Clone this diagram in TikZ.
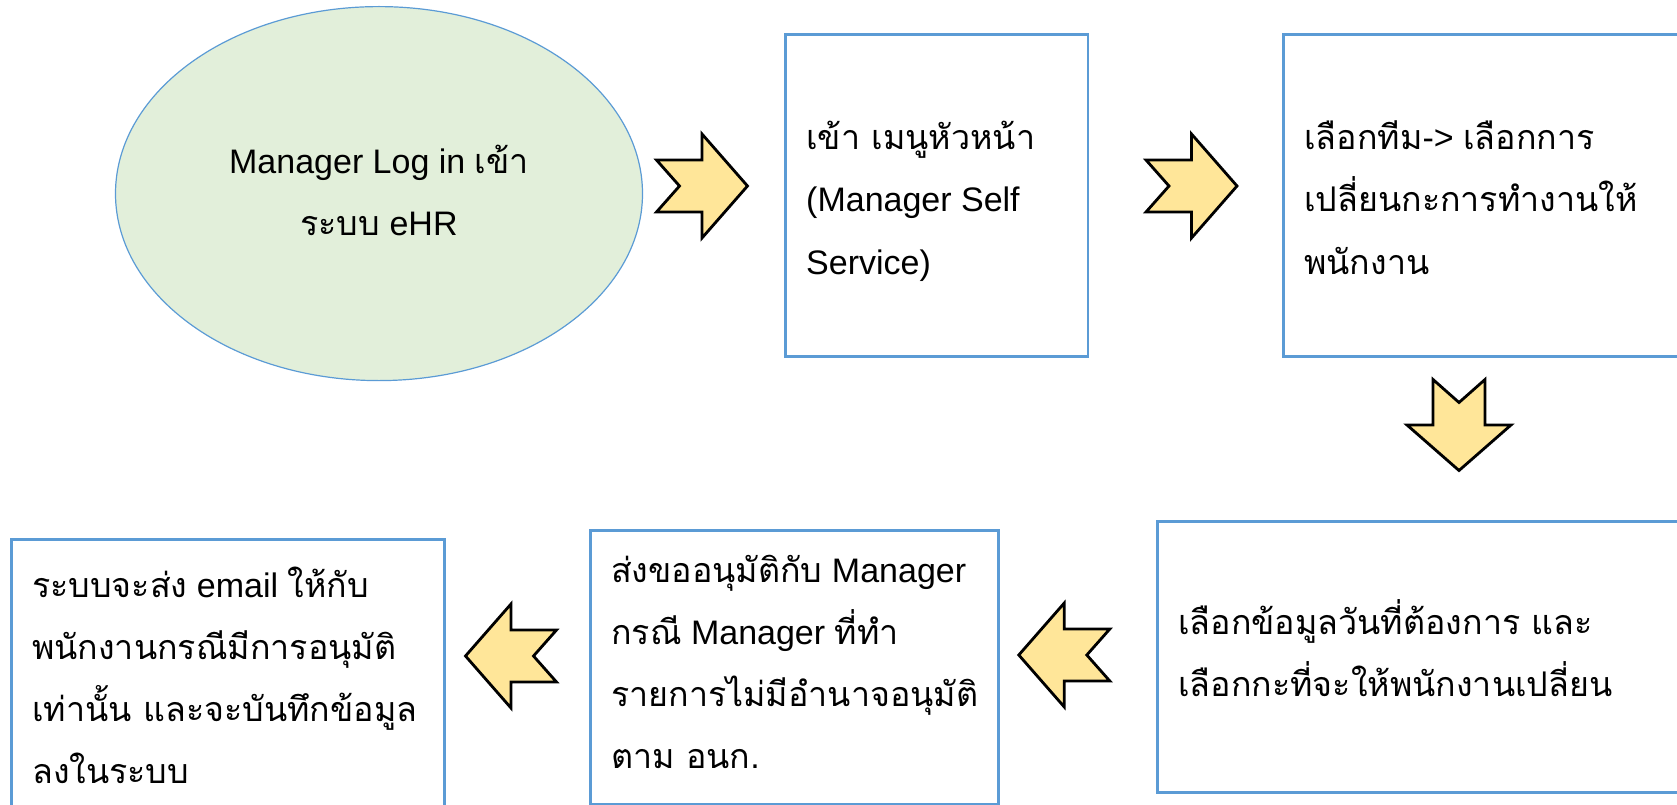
\documentclass[tikz,border=0pt]{standalone}
\usepackage{fontspec}
\setmainfont{Liberation Sans}
\newfontfamily\thaifont[Script=Thai,Scale=1.0]{Loma}
\usetikzlibrary{shapes.geometric}
\definecolor{boxblue}{HTML}{5B9BD5}
\definecolor{ellfill}{HTML}{E2EFDA}
\definecolor{arrfill}{HTML}{FFE699}
\newcommand\thx[1]{{\thaifont #1}}
\newcommand\tblock[2][l]{\begin{minipage}[t]{520pt}\ifx l#1\raggedright\else\centering\fi\setlength{\baselineskip}{62pt}\setlength{\lineskiplimit}{-300pt}#2\end{minipage}}
\tikzset{
  boxnode/.style={draw=boxblue, line width=2.6pt, rectangle, anchor=north west, inner sep=0pt},
  txt/.style={anchor=base west, inner sep=0pt, font=\fontsize{34}{62}\selectfont},
  arrowshape/.style={draw=black, fill=arrfill, line width=2.8pt, line join=miter},
  blockarrow/.pic={\draw[arrowshape] (-45.5,-26) -- (0,-26) -- (0,-52) -- (45.5,0) -- (0,52) -- (0,26) -- (-45.5,26) -- (-22.5,0) -- cycle;}
}
\begin{document}
\begin{tikzpicture}[x=1pt,y=-1pt]
\useasboundingbox (0,0) rectangle (1677,805);
\clip (0,0) rectangle (1677,805);
% ellipse
\node[ellipse, draw=boxblue, line width=1.2pt, fill=ellfill, minimum width=527pt, minimum height=374pt, inner sep=0pt] (start) at (379,193.6) {};
\node[txt, anchor=base] (starttxt) at (379,174) {\tblock[c]{Manager Log in \thx{เข้า}\\\thx{ระบบ} eHR}};
% boxes
\node[boxnode, minimum width=302.6pt, minimum height=322pt] (b1) at (784,33) {};
\node[boxnode, minimum width=408pt, minimum height=322pt] (b2) at (1282,33) {};
\node[boxnode, minimum width=534pt, minimum height=271pt] (b3) at (1156,520) {};
\node[boxnode, minimum width=408pt, minimum height=274pt] (b4) at (589,529) {};
\node[boxnode, minimum width=433pt, minimum height=280pt] (b5) at (10,538) {};
% texts
\node[txt] (t1) at (806,150) {\tblock{\thx{เข้า เมนูหัวหน้า}\\(Manager Self\\Service)}};
\node[txt] (t2) at (1304,150) {\tblock{\thx{เลือกทีม}-> \thx{เลือกการ}\\\thx{เปลี่ยนกะการทำงานให้}\\\thx{พนักงาน}}};
\node[txt] (t3) at (1178,634) {\tblock{\thx{เลือกข้อมูลวันที่ต้องการ และ}\\\thx{เลือกกะที่จะให้พนักงานเปลี่ยน}}};
\node[txt] (t4) at (611,582) {\tblock{\thx{ส่งขออนุมัติกับ} Manager\\\thx{กรณี} Manager \thx{ที่ทำ}\\\thx{รายการไม่มีอำนาจอนุมัติ}\\\thx{ตาม อนก}.}};
\node[txt] (t5) at (32,597) {\tblock{\thx{ระบบจะส่ง} email \thx{ให้กับ}\\\thx{พนักงานกรณีมีการอนุมัติ}\\\thx{เท่านั้น และจะบันทึกข้อมูล}\\\thx{ลงในระบบ}}};
% block arrows
\pic at (702,186) {blockarrow};
\pic at (1191.5,186) {blockarrow};
\pic[rotate=-90] at (1459,425) {blockarrow};
\pic[rotate=180] at (1064.3,655) {blockarrow};
\pic[rotate=180] at (511,656) {blockarrow};
\end{tikzpicture}
\end{document}
